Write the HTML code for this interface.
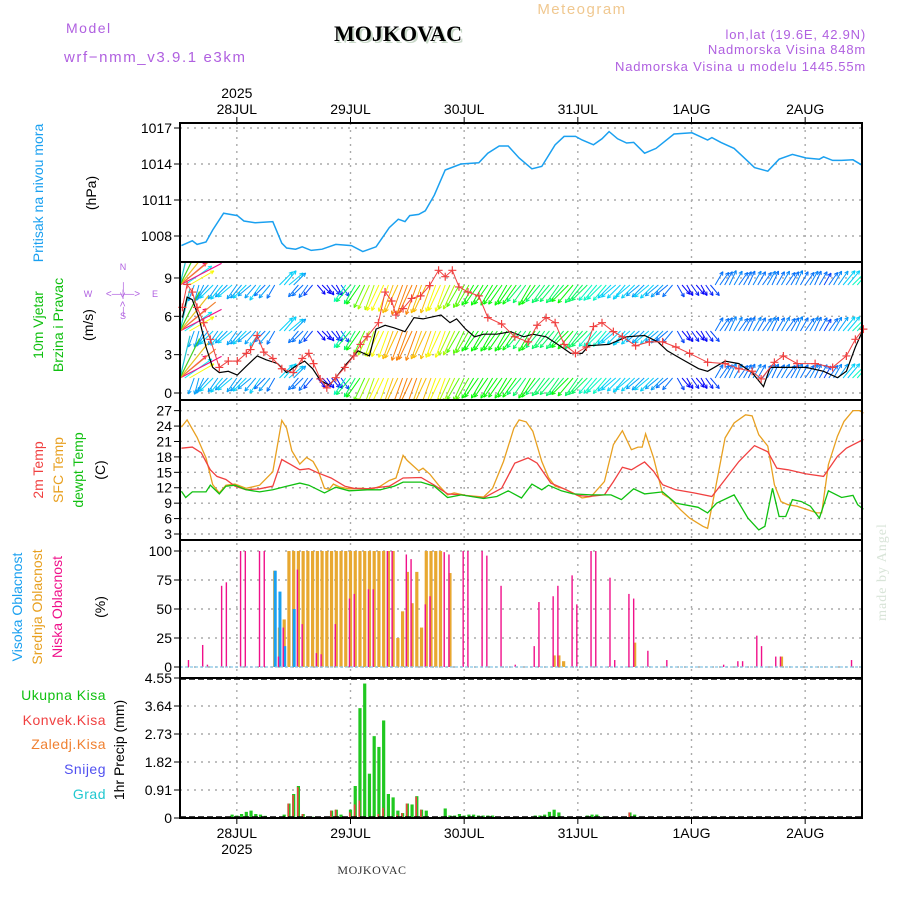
<!DOCTYPE html>
<html><head><meta charset="utf-8"><style>
body{margin:0;background:#fff;}
svg{display:block;font-family:"Liberation Sans",sans-serif;}
</style></head><body>
<svg id="chart" width="900" height="900" viewBox="0 0 900 900" xmlns="http://www.w3.org/2000/svg">
<rect width="900" height="900" fill="#fff"/>
<g id="header">
<text x="582" y="14" fill="#f0c890" font-size="15" text-anchor="middle" letter-spacing="1.5">Meteogram</text>
<text x="400" y="43" fill="#c8d8c8" font-size="22" font-weight="bold" font-family="Liberation Serif,serif" text-anchor="middle">MOJKOVAC</text>
<text x="398" y="41" fill="#000" font-size="22" font-weight="bold" font-family="Liberation Serif,serif" text-anchor="middle">MOJKOVAC</text>
<text x="66" y="33" fill="#b060e0" font-size="14" letter-spacing="1.5">Model</text>
<text x="64" y="62" fill="#b060e0" font-size="15" letter-spacing="1.6">wrf−nmm_v3.9.1 e3km</text>
<text x="866" y="39" fill="#b060e0" font-size="13" text-anchor="end" letter-spacing="0.8">lon,lat (19.6E, 42.9N)</text>
<text x="866" y="54" fill="#b060e0" font-size="13" text-anchor="end" letter-spacing="0.8">Nadmorska Visina 848m</text>
<text x="866" y="71" fill="#b060e0" font-size="13" text-anchor="end" letter-spacing="0.8">Nadmorska Visina u modelu 1445.55m</text>
</g>
<g id="grid"></g>
<g id="marks"></g>
<g id="frames"></g>
<g id="labels" font-size="14">
<text transform="translate(43,193) rotate(-90)" fill="#1aa0f0" text-anchor="middle">Pritisak na nivou mora</text>
<text transform="translate(96,193) rotate(-90)" fill="#000" text-anchor="middle">(hPa)</text>
<text transform="translate(43,325) rotate(-90)" fill="#10c010" text-anchor="middle">10m Vjetar</text>
<text transform="translate(63,325) rotate(-90)" fill="#10c010" text-anchor="middle">Brzina i Pravac</text>
<text transform="translate(93,325) rotate(-90)" fill="#000" text-anchor="middle">(m/s)</text>
<g fill="#b060e0" font-size="9">
<text x="123" y="270" text-anchor="middle">N</text><text x="123" y="319" text-anchor="middle">S</text>
<text x="88" y="297" text-anchor="middle">W</text><text x="155" y="297" text-anchor="middle">E</text>
<text x="123" y="297" text-anchor="middle" font-size="10">&lt;—|—&gt;</text>
<text transform="translate(126,290) rotate(-90)" text-anchor="middle" font-size="10">&lt;—</text>
<text transform="translate(126,309) rotate(-90)" text-anchor="middle" font-size="10">—&gt;</text>
</g>
<text transform="translate(43,470) rotate(-90)" fill="#f04040" text-anchor="middle">2m Temp</text>
<text transform="translate(63,470) rotate(-90)" fill="#e8a020" text-anchor="middle">SFC Temp</text>
<text transform="translate(83,470) rotate(-90)" fill="#10c010" text-anchor="middle">dewpt Temp</text>
<text transform="translate(105,470) rotate(-90)" fill="#000" text-anchor="middle">(C)</text>
<text transform="translate(22,607) rotate(-90)" fill="#1aa0f0" text-anchor="middle">Visoka Oblacnost</text>
<text transform="translate(42,607) rotate(-90)" fill="#e8a020" text-anchor="middle">Srednja Oblacnost</text>
<text transform="translate(62,607) rotate(-90)" fill="#f0108a" text-anchor="middle">Niska Oblacnost</text>
<text transform="translate(105,607) rotate(-90)" fill="#000" text-anchor="middle">(%)</text>
<text x="106" y="700" fill="#10c010" text-anchor="end" letter-spacing="0.5">Ukupna Kisa</text>
<text x="106" y="725" fill="#f04040" text-anchor="end" letter-spacing="0.5">Konvek.Kisa</text>
<text x="106" y="749" fill="#f08030" text-anchor="end" letter-spacing="0.5">Zaledj.Kisa</text>
<text x="106" y="774" fill="#5050f0" text-anchor="end" letter-spacing="0.5">Snijeg</text>
<text x="106" y="799" fill="#20c8d0" text-anchor="end" letter-spacing="0.5">Grad</text>
<text transform="translate(124,750) rotate(-90)" fill="#000" text-anchor="middle">1hr Precip (mm)</text>
<text transform="translate(886,572) rotate(-90)" fill="#d8e4d8" text-anchor="middle" font-family="Liberation Serif,serif" letter-spacing="1">made by Angel</text>
<text x="372" y="874" fill="#333" font-size="12" font-family="Liberation Serif,serif" text-anchor="middle" letter-spacing="0.5">MOJKOVAC</text>
</g>
</svg>
<script>
const dayLabels=["28JUL","29JUL","30JUL","31JUL","1AUG","2AUG"];
const dayHours=[12,36,60,84,108,132];
const presTicks=[1008,1011,1014,1017];
const windTicks=[0,3,6,9];
const tempTicks=[3,6,9,12,15,18,21,24,27];
const cloudTicks=[0,25,50,75,100];
const precipTicks=[0,0.91,1.82,2.73,3.64,4.55];

const presT=[0.3,2.6,3.6,5.5,6.9,9.2,12.1,13.5,15.9,19.6,21.5,22.5,24.4,25.8,27.7,30,32.9,36.2,38.6,41.4,44.2,46.1,47.5,48.5,50.4,51.8,53.7,56,59.3,63.1,65,67.4,69.3,71.6,74.3,76.4,79.2,81.1,83.5,84.9,87.3,89.1,90.6,92.4,94.3,95.8,98.1,100.5,102.4,104.3,108.1,111.4,112.3,114.2,117,118.9,121.3,124.1,126.5,129.3,132.2,135,135.9,137.8,139.7,142.1,144];
const presV=[1007.2,1007.6,1007.3,1007.5,1008.5,1009.9,1009.7,1009.25,1009.1,1009.2,1007.4,1007.0,1006.9,1007.1,1006.8,1006.9,1007.3,1007.2,1006.7,1007.1,1008.7,1009.4,1009.2,1009.7,1009.8,1010.1,1011.4,1013.5,1014.0,1014.1,1014.9,1015.5,1015.5,1014.5,1013.6,1013.8,1015.6,1016.3,1016.3,1016.0,1015.6,1016.1,1016.7,1016.1,1015.75,1015.8,1014.9,1015.3,1015.9,1016.5,1016.6,1016.0,1016.2,1015.8,1015.3,1014.6,1013.7,1013.4,1014.4,1014.8,1014.5,1014.4,1014.6,1014.3,1014.3,1014.35,1013.9];

const spdT=[0.5,1.5,2.6,4.0,5.5,6.9,8.3,10.2,12.1,14.0,16.3,18.2,20.6,22.5,24.4,26.3,28.0,29.6,31.5,32.9,35.2,37.6,40.0,41.4,43.3,45.2,47.5,49.4,51.3,55.1,57.0,58.4,60.3,62.2,64.1,66.9,69.8,72.6,74.5,77.3,80.2,82.5,84.9,86.3,90.6,94.3,98.1,100.9,102.9,105.7,109.5,111.4,115.1,118.0,120.8,123.2,124.6,127.4,132.2,135.9,138.8,140.7,142.6,144.3];
const spdV=[5.9,7.5,7.3,5.9,3.6,2.0,1.6,1.7,1.4,2.1,2.9,2.6,2.3,1.6,2.1,2.5,1.9,1.0,0.6,1.2,2.3,3.3,2.9,5.0,5.3,5.1,4.8,5.9,5.8,6.1,5.5,5.8,5.0,4.4,4.6,4.6,4.8,4.4,4.6,4.4,3.7,3.1,3.1,3.7,3.8,4.4,4.5,4.0,3.3,2.7,1.9,1.7,2.5,2.3,1.6,0.5,2.0,2.0,2.0,1.7,1.2,1.7,3.6,5.0];
const gustT=[0.5,1.5,2.6,3.6,5.0,6.4,8.3,10.2,12.1,14.0,14.9,16.3,17.7,19.6,21.5,23.9,25.8,27.2,28.2,29.6,31.0,32.9,34.8,36.7,38.1,39.5,41.9,43.3,44.7,45.6,47.1,48.9,50.8,52.7,54.6,56.0,57.5,58.9,60.8,63.1,65.0,67.9,70.7,73.5,75.4,77.3,79.2,81.1,83.5,85.8,87.3,89.1,91.5,93.4,96.2,99.1,101.9,104.7,107.6,111.4,115.1,118.0,120.8,122.7,125.5,127.4,130.3,134.1,137.8,140.7,142.6,144.3];
const gustV=[6.7,8.5,7.9,6.7,5.5,4.2,2.0,2.5,2.5,3.1,3.4,4.5,3.2,2.7,1.9,1.6,2.7,3.1,2.3,1.1,0.4,1.2,2.0,2.9,3.8,4.4,5.5,7.9,7.2,6.1,6.6,7.4,7.6,8.4,9.6,9.1,9.6,8.3,7.9,7.6,5.9,5.4,4.4,4.0,5.3,5.9,5.5,3.8,3.1,3.6,5.2,5.5,4.8,4.4,3.7,4.0,4.0,3.6,3.1,2.4,2.3,1.9,1.7,1.1,2.4,2.9,2.3,2.3,2.0,2.9,4.2,5.0];

// hourly wind arrows (index = forecast hour)
const arrowDir=[50,55,60,200,195,205,220,225,215,220,
225,230,215,220,225,230,220,215,225,220,
210,45,40,50,45,220,225,215,220,140,
135,145,140,150,145,215,220,210,215,205,
205,200,205,205,200,200,205,200,200,205,
200,200,205,200,200,205,200,205,205,210,
205,210,210,215,210,215,210,215,215,210,
215,215,220,215,210,215,220,215,220,220,
215,220,225,220,215,220,225,220,220,225,
220,225,230,225,220,230,225,230,225,230,
225,230,225,230,220,150,140,150,145,140,
150,145,140,30,35,30,25,30,35,30,
25,30,30,35,30,25,30,30,35,30,
25,30,35,30,25,30,30,35,30,35,
40,40,45,40,45];
const arrowSpd=[8,7.5,6,2.5,2.5,2.5,2.5,3,2.5,3,
2.5,3,2.5,2.5,3,2.5,2.5,3,2,2.5,
2,3,3,3,2.5,2,2,2,1.5,1,
1,1,1.2,1,1.5,3.5,4,4,4.5,5,
5.5,5.5,6,6,6,6.5,6.5,7,7,7,
7,6.5,6.5,6.5,6,6,6,5.5,5.5,5,
5,5,4.5,4.5,4.5,4.5,4.5,4.5,4.5,4.5,
4.5,4.5,4,4,4.5,4.5,4,4,4,4,
4,4,4.5,4.5,4,4,4,3.5,3.5,3.5,
3.5,3,3,3,3,3,3,2.5,2.5,3,
3,2.5,2.5,2,2,1.5,1,1,1.2,1,
1,1.2,1.5,2,2,2,2.2,2.2,2,2,
2,2.2,2,2,2.2,2,2,2.2,2,2,
2.2,2,2,2.2,2,2,1.5,2,2.2,2.5,
3,3,3.5,3.5,4];
const arrowRows=[285,331,378];

const tempT2=[0.3,2.6,4.5,6.4,7.8,9.7,11.6,14.0,16.8,19.6,21.5,23.4,25.3,27.2,29.1,31.9,34.8,36.7,39.5,42.3,44.2,47.1,50.9,53.7,56.5,59.4,64.1,67.9,70.7,73.5,75.4,78.3,81.1,83.9,86.3,89.6,91.5,93.4,95.3,98.1,100.0,101.9,104.7,108.5,112.3,115.1,118.0,121.3,124.1,126.0,128.4,132.2,135.9,138.8,140.7,144.3];
const temp2m=[19.7,19.9,18.8,15.5,14.2,13.6,12.3,11.6,11.8,12.3,17.5,16.5,15.5,15.7,14.9,13.9,12.3,11.9,11.8,12.1,12.3,13.9,14.0,12.5,10.8,10.6,10.0,11.9,16.8,17.8,16.8,12.9,11.8,10.5,10.3,10.6,13.2,16.0,15.5,17.0,15.2,12.6,11.6,11.0,10.3,13.6,17.1,20.2,19.0,15.8,15.5,14.7,14.2,18.1,19.7,21.4];
const tempTS=[0.3,1.5,3.6,5.5,6.9,8.3,9.7,11.6,14.0,16.8,19.6,21.5,22.5,23.6,25.3,26.7,28.1,29.1,30.5,31.5,32.4,33.8,35.7,38.6,40.4,42.3,44.2,45.6,47.1,48.0,50.4,51.3,52.7,54.6,56.5,57.9,60.3,64.1,66.0,68.3,70.5,71.6,73.1,74.5,76.4,77.8,79.2,81.1,83.0,84.9,86.8,89.6,91.5,93.4,95.3,96.7,97.6,98.3,100.0,101.9,103.3,105.7,107.6,110.4,111.4,112.8,115.1,117.0,119.4,120.8,122.2,124.1,125.5,126.9,128.4,130.3,132.2,134.5,135.5,136.9,138.8,140.2,142.1,143.5,144.3];
const tempSfc=[23.8,25.2,21.8,17.8,12.6,11.0,12.5,12.7,11.9,12.5,15.1,25.1,23.6,19.2,16.6,17.9,17.1,15.5,11.9,11.7,12.7,12.1,11.8,11.9,11.7,12.3,13.4,13.9,18.3,17.3,15.3,15.8,14.7,12.5,10.6,11.0,10.5,10.2,11.9,17.1,23.6,25.2,24.8,23.0,17.1,14.0,12.3,11.8,11.0,10.0,10.3,13.2,20.4,23.1,19.4,19.9,19.9,22.5,17.8,10.8,10.0,7.7,6.1,4.5,4.1,10.6,21.7,24.6,26.2,26.0,22.3,20.1,12.6,9.3,8.7,8.4,7.8,7.1,7.1,16.5,22.0,24.9,27.0,27.0,26.5];
const tempTD=[0.3,1.2,2.6,5.5,6.4,8.3,9.7,11.6,14.0,16.8,19.6,22.5,25.3,27.2,30.5,32.9,35.7,39.5,42.3,45.2,47.1,50.9,53.7,56.5,59.4,64.1,66.9,69.3,72.1,74.3,76.4,77.8,80.5,83.0,86.8,91.0,93.2,95.8,98.1,101.9,104.7,109.4,111.4,113.3,117.0,119.9,122.2,123.5,125.1,126.5,127.9,129.3,131.2,133.1,135.0,136.9,139.7,142.1,143.1,144.3];
const tempDew=[11.3,10.1,11.2,11.2,12.5,10.8,12.3,12.5,11.6,11.2,11.6,12.3,12.9,12.5,11.0,12.1,11.4,11.6,11.6,12.3,13.1,13.1,12.3,10.1,10.6,9.9,10.3,11.4,10.0,12.7,11.6,12.5,11.4,10.8,10.6,10.6,9.7,11.8,10.8,11.2,9.0,8.2,7.1,9.0,10.6,6.1,3.8,4.5,11.9,6.4,6.4,9.7,9.3,8.4,6.1,11.4,10.1,10.5,8.7,7.8];

const lowT=[2,5,6,9,10,13,14,17,18,21,22,25,26,29,30,33,36,37,40,41,44,45,48,49,52,53,56,57,60,61,64,65,68,71,75,76,79,80,83,84,87,88,91,92,95,96,99,103,115,118,119,122,123,126,127,142];
const lowV=[6,19,2,70,73,100,100,100,100,9,34,84,37,12,11,37,59,63,67,67,100,100,97,93,54,61,99,97,100,100,100,96,70,2,18,56,61,70,79,54,100,100,77,6,63,59,14,6,2,5,5,27,18,9,9,6];
const midT=[20,21,22,23,24,25,26,27,28,29,30,31,32,33,34,35,36,37,38,39,40,41,42,43,44,45,46,47,48,49,50,51,52,53,54,55,57,79,80,81,96,127];
const midV=[83,34,41,100,100,100,100,100,100,100,100,100,100,100,100,100,100,100,100,100,100,100,100,100,100,100,25,48,82,55,82,34,100,100,100,100,81,10,10,5,21,9];
const highT=[20,21,22,24];
const highV=[83,65,18,50];

const precipT=[11,12,13,14,15,16,17,18,22,23,24,25,26,27,28,32,33,34,36,37,38,39,40,41,42,43,44,45,46,47,48,49,50,51,52,55,56,57,58,59,60,61,62,63,64,65,66,67,75,76,77,78,79,80,81,86,87,88,89,94,95,96,97];
const precipV=[0.11,0.08,0.13,0.2,0.24,0.13,0.11,0.07,0.11,0.47,0.78,1.04,0.13,0.04,0.04,0.24,0.27,0.11,0.27,1.04,3.57,4.37,1.44,2.66,2.31,3.17,0.78,0.67,0.24,0.16,0.47,0.44,0.71,0.27,0.24,0.04,0.31,0.08,0.08,0.13,0.08,0.11,0.11,0.08,0.08,0.08,0.08,0.04,0.08,0.08,0.11,0.2,0.27,0.18,0.04,0.08,0.11,0.11,0.04,0.04,0.18,0.11,0.04];
const convT=[23,24,25,26,27,32,33,36,37,38,39,42,43,46,47,48,50,51,95];
const convV=[0.47,0.75,1.0,0.13,0.04,0.24,0.27,0.18,0.44,0.57,0.04,0.13,0.33,0.11,0.16,0.47,0.69,0.27,0.18];

const NS="http://www.w3.org/2000/svg";
const X0=180,X1=862;
const X=t=>X0+t*(X1-X0)/144;
const YP=v=>128+(1017-v)*12;
const YW=v=>393-v*12.78;
const YT=v=>534-(v-3)*5.14;
const YC=v=>667-v*1.16;
const YR=v=>818-v*30.77;
const panels=[[123,262],[262,400],[400,540],[540,678],[678,818]];
function mk(tag,attrs,parent){const e=document.createElementNS(NS,tag);for(const k in attrs)e.setAttribute(k,attrs[k]);parent.appendChild(e);return e;}
const grid=document.getElementById('grid'),marks=document.getElementById('marks'),frames=document.getElementById('frames');

dayHours.forEach((h,i)=>{
  const l=mk('line',{x1:X(h),x2:X(h),y1:123,y2:818,stroke:'#aaa','stroke-width':1.4,'stroke-dasharray':'2,5'},grid);
  
  
  const t1=mk('text',{x:X(h),y:114,'font-size':14,'text-anchor':'middle',fill:'#000'},grid);t1.textContent=dayLabels[i];
  
  
  const t2=mk('text',{x:X(h),y:838,'font-size':14,'text-anchor':'middle',fill:'#000'},grid);t2.textContent=dayLabels[i];
  
  
  mk('line',{x1:X(h),x2:X(h),y1:117,y2:123,stroke:'#000','stroke-width':1},grid);
  mk('line',{x1:X(h),x2:X(h),y1:818,y2:824,stroke:'#000','stroke-width':1},grid);
});
[[98,'top-year-label'],[854,'bottom-year-label']].forEach(([y,n])=>{
  const t=mk('text',{x:X(12),y:y,'font-size':14,'text-anchor':'middle',fill:'#000'},grid);t.textContent='2025';
  
  
});
function yAxis(ticks,fy,name,fmt){
  ticks.forEach(v=>{
    const y=fy(v);
    mk('line',{x1:X0,x2:X1,y1:y,y2:y,stroke:'#aaa','stroke-width':1.4,'stroke-dasharray':'2,5'},grid);
    mk('line',{x1:X0-6,x2:X0,y1:y,y2:y,stroke:'#000','stroke-width':1},grid);
    const t=mk('text',{x:X0-8,y:y+5,'font-size':14,'text-anchor':'end',fill:'#000'},grid);
    t.textContent=fmt?fmt(v):v;
    
    
  });
}
yAxis(presTicks,YP,'pressure-tick');
yAxis(windTicks,YW,'wind-tick');
yAxis(tempTicks,YT,'temp-tick');
yAxis(cloudTicks,YC,'cloud-tick');
yAxis(precipTicks,YR,'precip-tick',v=>v===0?'0':v.toFixed(2));

function line(ts,vs,fy,color,w,name){
  const d=ts.map((t,i)=>(i?'L':'M')+X(t).toFixed(1)+','+fy(vs[i]).toFixed(1)).join('');
  const p=mk('path',{d:d,fill:'none',stroke:color,'stroke-width':w},marks);
  
  
}
line(presT,presV,YP,'#1aa0f0',1.5,'pressure-line');

function hue(s){const stops=[[0,270],[1.5,225],[3,190],[4.5,120],[6,60],[7,30],[8,335]];
  for(let i=1;i<stops.length;i++){if(s<=stops[i][0]){const a=stops[i-1],b=stops[i];return a[1]+(b[1]-a[1])*(s-a[0])/(b[0]-a[0]);}}return 335;}
const defs=mk('defs',{},document.getElementById('chart'));
const cp=mk('clipPath',{id:'windclip'},defs);mk('rect',{x:X0,y:263,width:X1-X0,height:136},cp);
const wg=mk('g',{'clip-path':'url(#windclip)'},marks);
arrowRows.forEach((by,r)=>{
  arrowDir.forEach((dir,t)=>{
    const s=arrowSpd[t],a=dir*Math.PI/180,len=9+s*3.2;
    const x0=X(t),y0=by,x1=x0+Math.sin(a)*len,y1=y0-Math.cos(a)*len;
    const c='hsl('+hue(s)+',95%,50%)';
    const g=mk('g',{stroke:c,'stroke-width':1,fill:'none'},wg);
    
    
    mk('line',{x1:x0,y1:y0,x2:x1,y2:y1},g);
    const ang=Math.atan2(y1-y0,x1-x0);
    [0.45,-0.45].forEach(d=>mk('line',{x1:x1,y1:y1,x2:x1-4*Math.cos(ang+d),y2:y1-4*Math.sin(ang+d)},g));
  });
  ['#f0108a','#f08030','#e8c020','#40d020','#20c8d0'].forEach((c,k)=>{
    const ang=(30+k*12)*Math.PI/180;
    const f=mk('line',{x1:X0,y1:by,x2:X0+Math.cos(ang)*48,y2:by-Math.sin(ang)*48*0.9,stroke:c,'stroke-width':1.2},wg);
    
    
  });
});
line(spdT,spdV,YW,'#000',1.2,'wind-speed-line');
line(gustT,gustV,YW,'#f04040',1,'wind-gust-line');
gustT.forEach((t,i)=>{
  const x=X(t),y=YW(gustV[i]);
  const p=mk('path',{d:`M${x-4},${y}H${x+4}M${x},${y-4}V${y+4}`,stroke:'#f04040','stroke-width':1.2},marks);
  
  
});

line(tempTS,tempSfc,YT,'#e8a020',1.3,'sfc-temp-line');
line(tempT2,temp2m,YT,'#f04040',1.3,'temp-2m-line');
line(tempTD,tempDew,YT,'#10c010',1.3,'dewpoint-line');

function bars(ts,vs,fy,color,w,off,name){
  ts.forEach((t,i)=>{
    const x=X(t)+off,y=fy(vs[i]),y0=fy(0);
    const b=mk('rect',{x:x-w/2,y:y,width:w,height:Math.max(0,y0-y),fill:color},marks);
    
    
  });
}
bars(midT,midV,YC,'#e8a830',3.2,0,'cloud-mid-bar');
bars(highT,highV,YC,'#1aa0f0',3,0.5,'cloud-high-bar');
bars(lowT,lowV,YC,'#f0108a',1.4,-1,'cloud-low-bar');
mk('line',{x1:X0,x2:X1,y1:667,y2:667,stroke:'#88c8e8','stroke-width':1.2,'stroke-dasharray':'3,2'},marks);

bars(precipT,precipV,YR,'#20c820',3.2,0,'precip-total-bar');
bars(convT,convV,YR,'#f04040',1.6,-0.6,'precip-convective-bar');
mk('line',{x1:X0,x2:X1,y1:679,y2:679,stroke:'#000','stroke-width':1.5,'stroke-dasharray':'6,3'},marks);
mk('line',{x1:X0,x2:X1,y1:817,y2:817,stroke:'#000','stroke-width':1.5,'stroke-dasharray':'6,3'},marks);

panels.forEach(([a,b],i)=>{
  const r=mk('rect',{x:X0,y:a,width:X1-X0,height:b-a,fill:'none',stroke:'#000','stroke-width':2},frames);
  
  
});
</script>
</body></html>
